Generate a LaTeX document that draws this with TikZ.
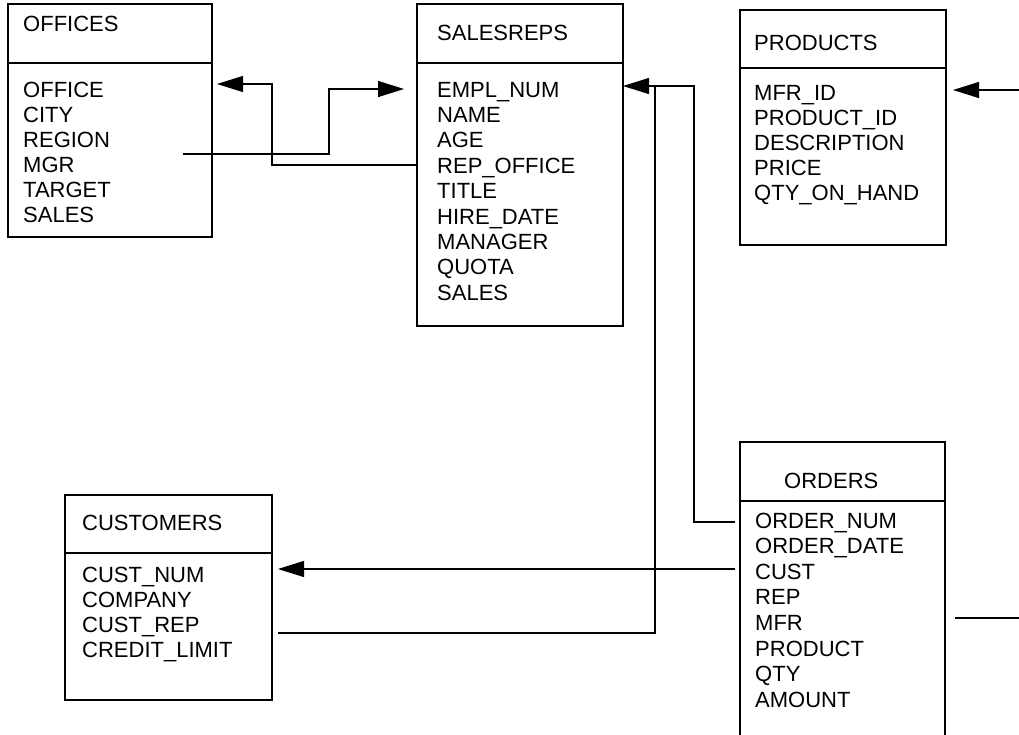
\documentclass[tikz,border=0pt]{standalone}
\usepackage{fontspec}
\setmainfont{Liberation Sans}
\usetikzlibrary{arrows.meta}
\begin{document}
\begin{tikzpicture}[x=1pt,y=-1pt,
  tbl/.style={draw,line width=1.1pt,anchor=north west,inner sep=0pt,outer sep=0pt},
  fld/.style={anchor=base west,inner sep=0pt,font=\fontsize{22}{25}\selectfont},
  conn/.style={line width=1.1pt},
  arr/.style={conn,-{Triangle[length=26pt,width=16pt]}}]
\clip (0,0) rectangle (1019,734);
\fill[white] (0,0) rectangle (1019,734);

% OFFICES
\node[tbl,minimum width=204pt,minimum height=233pt] (offices) at (8,4) {};
\draw[conn] (8,63) -- (212,63);
\node[fld] (offices-t) at (23,31) {OFFICES};
\foreach \t [count=\i from 0] in {OFFICE,CITY,REGION,MGR,TARGET,SALES}
  \node[fld] (offices-\i) at (23,97+25*\i) {\t};

% SALESREPS
\node[tbl,minimum width=206pt,minimum height=322pt] (salesreps) at (417,4) {};
\draw[conn] (417,63) -- (623,63);
\node[fld] (salesreps-t) at (437,40) {SALESREPS};
\foreach \t [count=\i from 0] in {EMPL\_NUM,NAME,AGE,REP\_OFFICE,TITLE,HIRE\_DATE,MANAGER,QUOTA,SALES}
  \node[fld] (salesreps-\i) at (437,97+25.4*\i) {\t};

% PRODUCTS
\node[tbl,minimum width=206pt,minimum height=235pt] (products) at (740,10) {};
\draw[conn] (740,68) -- (946,68);
\node[fld] (products-t) at (754,50) {PRODUCTS};
\foreach \t [count=\i from 0] in {MFR\_ID,PRODUCT\_ID,DESCRIPTION,PRICE,QTY\_ON\_HAND}
  \node[fld] (products-\i) at (754,100+25*\i) {\t};

% CUSTOMERS
\node[tbl,minimum width=207pt,minimum height=205pt] (customers) at (65,495) {};
\draw[conn] (65,553) -- (272,553);
\node[fld] (customers-t) at (82,530) {CUSTOMERS};
\foreach \t [count=\i from 0] in {CUST\_NUM,COMPANY,CUST\_REP,CREDIT\_LIMIT}
  \node[fld] (customers-\i) at (82,582+25.3*\i) {\t};

% ORDERS
\node[tbl,minimum width=205pt,minimum height=320pt] (orders) at (740,442) {};
\draw[conn] (740,501) -- (945,501);
\node[fld] (orders-t) at (784,488) {ORDERS};
\foreach \t [count=\i from 0] in {ORDER\_NUM,ORDER\_DATE,CUST,REP,MFR,PRODUCT,QTY,AMOUNT}
  \node[fld] (orders-\i) at (755,528+25.6*\i) {\t};

% connector end points
\coordinate (mgrS) at (183,154);
\coordinate (empA) at (404,89);
\coordinate (repoS) at (417,165);
\coordinate (offA) at (217,84);
\coordinate (onumS) at (735,522);
\coordinate (empB) at (623,86);
\coordinate (crepS) at (278,633);
\coordinate (crepE) at (655,86);
\coordinate (custS) at (735,569);
\coordinate (cnumA) at (278,569);
\coordinate (mfrS) at (955,618);
\coordinate (mfrE) at (1019,618);
\coordinate (prodS) at (1019,90);
\coordinate (prodA) at (953,90);

% connectors
\draw[arr] (mgrS) -- ++(146,0) |- (empA);
\draw[arr] (repoS) -- ++(-145,0) |- (offA);
\draw[arr] (onumS) -- ++(-41,0) |- (empB);
\draw[conn] (crepS) -| (crepE);
\draw[arr] (custS) -- (cnumA);
\draw[conn] (mfrS) -- (mfrE);
\draw[arr] (prodS) -- (prodA);
\end{tikzpicture}
\end{document}
